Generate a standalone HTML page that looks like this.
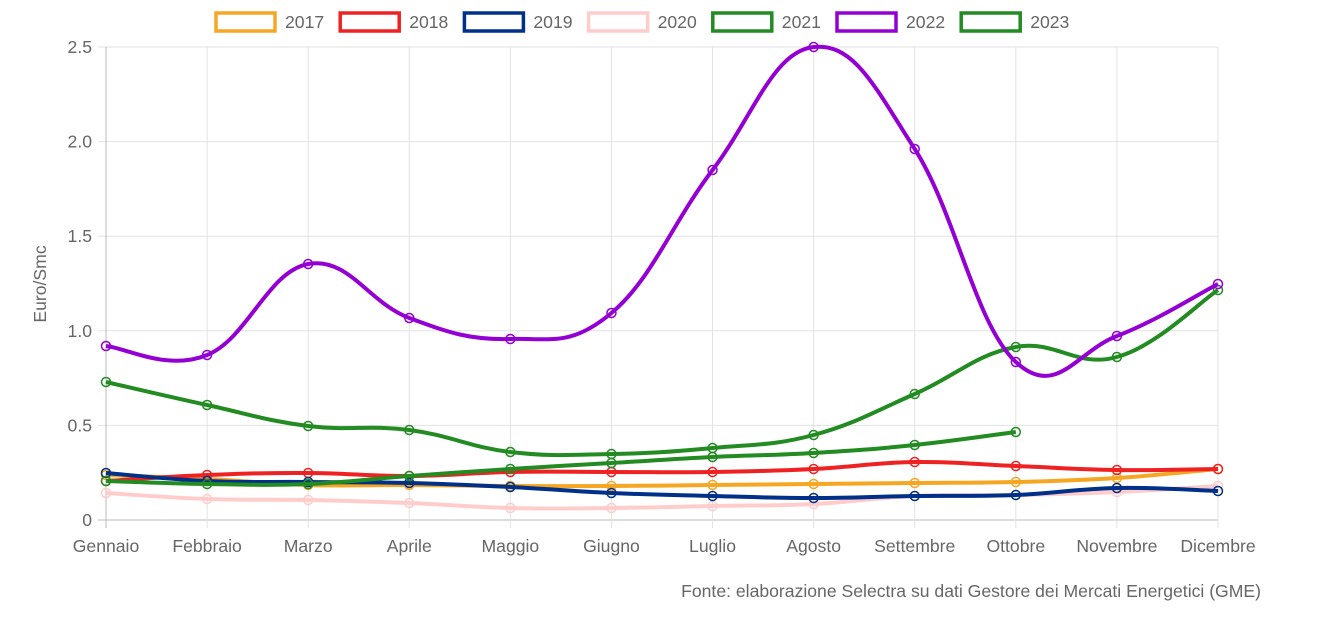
<!DOCTYPE html>
<html><head><meta charset="utf-8"><style>
body{margin:0;background:#fff;width:1333px;height:627px;overflow:hidden;font-family:"Liberation Sans",sans-serif}
</style></head><body>
<svg id="s" width="1333" height="627" xmlns="http://www.w3.org/2000/svg" font-family="Liberation Sans, sans-serif" font-size="17.6" fill="#666"></svg>
<script>
const s=document.getElementById('s');
let h='';
const X=i=>106+i*101.09;
const months=["Gennaio","Febbraio","Marzo","Aprile","Maggio","Giugno","Luglio","Agosto","Settembre","Ottobre","Novembre","Dicembre"];
[520,425.4,330.8,236.2,141.6,47].forEach((y,k)=>{
 h+=`<line x1="98" x2="1218" y1="${y}" y2="${y}" stroke="${k==0?'#bbb':'#e2e2e2'}" stroke-width="1"/>`;
 h+=`<text x="92" y="${y+6}" text-anchor="end">${['0','0.5','1.0','1.5','2.0','2.5'][k]}</text>`;
});
for(let i=0;i<12;i++){
 h+=`<line x1="${X(i)}" x2="${X(i)}" y1="47" y2="528" stroke="${i==0?'#bbb':'#e2e2e2'}" stroke-width="1"/>`;
 h+=`<text x="${X(i)}" y="552" text-anchor="middle">${months[i]}</text>`;
}
h+=`<text x="46" y="284" text-anchor="middle" transform="rotate(-90 46 284)">Euro/Smc</text>`;
h+=`<text x="1261" y="597" text-anchor="end">Fonte: elaborazione Selectra su dati Gestore dei Mercati Energetici (GME)</text>`;
const series=[
 ['2020','#ffcccc',[493,499,500,503,508,508,506,504,496,495,492,486]],
 ['2017','#f5a623',[475,479,485,485,486,486,485,484,483,482,478,469]],
 ['2018','#ee2222',[481,475,473,476,472,472,472,469,462,466,470,469]],
 ['2019','#003087',[473,481,482,483,487,493,496,498,496,495,488,491]],
 ['2023','#228b22',[481,484,484,476,469,463,457,453,445,432]],
 ['2021','#228b22',[382,405,426,430,452,454,448,435,394,347,357,290]],
 ['2022','#9400d3',[346,355,264,318,339,313,170,47,149,362,336,284]]
];
function path(ys){
 const p=ys.map((y,i)=>[X(i),y]);let d=`M${p[0][0]},${p[0][1]}`;
 for(let i=0;i<p.length-1;i++){
  const p0=p[i-1]||p[i],p1=p[i],p2=p[i+1],p3=p[i+2]||p2,t=0.2;
  const c1=[p1[0]+(p2[0]-p0[0])*t,p1[1]+(p2[1]-p0[1])*t];
  const c2=[p2[0]-(p3[0]-p1[0])*t,p2[1]-(p3[1]-p1[1])*t];
  d+=` C${c1[0]},${c1[1]} ${c2[0]},${c2[1]} ${p2[0]},${p2[1]}`;
 }
 return d;
}
series.forEach(([n,c,ys])=>{
 h+=`<path d="${path(ys)}" fill="none" stroke="${c}" stroke-width="4"/>`;
 ys.forEach((y,i)=>h+=`<circle cx="${X(i)}" cy="${y}" r="4.5" fill="none" stroke="${c}" stroke-width="1.5"/>`);
});
const leg=[['2017','#f5a623'],['2018','#ee2222'],['2019','#003087'],['2020','#ffcccc'],['2021','#228b22'],['2022','#9400d3'],['2023','#228b22']];
leg.forEach(([n,c],i)=>{
 const x=216+i*124.2;
 h+=`<rect x="${x}" y="13" width="59" height="18" fill="#fff" stroke="${c}" stroke-width="3.5"/>`;
 h+=`<text x="${x+69}" y="28">${n}</text>`;
});
s.innerHTML=h;
</script>
</body></html>
